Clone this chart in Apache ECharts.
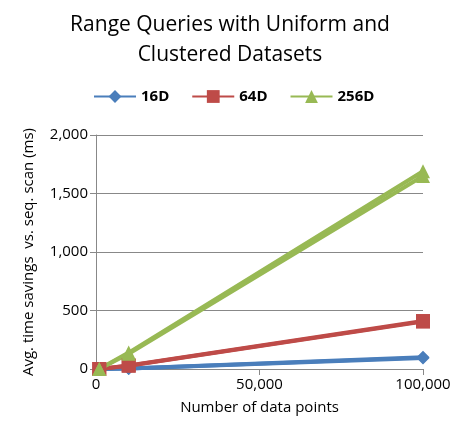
<!DOCTYPE html><html><head><meta charset="utf-8"><script src="https://cdn.jsdelivr.net/npm/echarts@6/dist/echarts.min.js"></script></head><body style="margin:0"><div id="c" style="width:460px;height:442px"></div><script>
const xs=[1000,10000,100000];
const s16a=[0,5,100], s16b=[0,4,95];
const s64a=[0,30,410], s64b=[0,28,405];
const s256a=[0,140,1690], s256b=[0,130,1650];
const colors={'16D':'#4a7ebb','64D':'#be4b48','256D':'#98b954'};
const sym={'16D':'diamond','64D':'rect','256D':'triangle'};
const ser=[];
function add(name,vals,main){ser.push({name:main?name:name+' ',type:'line',data:xs.map((x,i)=>[x,vals[i]]),color:colors[name],symbol:sym[name],symbolSize:name==='16D'?13:14,lineStyle:{width:4,color:colors[name]},itemStyle:{color:colors[name]}});}
add('16D',s16a,1);add('16D',s16b,0);add('64D',s64a,1);add('64D',s64b,0);add('256D',s256a,1);add('256D',s256b,0);
const ch=echarts.init(document.getElementById('c'));
ch.setOption({animation:false,textStyle:{fontFamily:'Open Sans'},
title:{text:'Range Queries with Uniform and\nClustered Datasets',left:'center',top:5,textStyle:{fontSize:21,fontWeight:'normal',color:'#000',lineHeight:30}},
legend:{data:['16D','64D','256D'],top:84,left:88,itemGap:22,itemWidth:42,itemHeight:16,textStyle:{fontSize:15,color:'#000',fontWeight:'bold'}},
grid:{left:96,right:37,top:135,bottom:73},
xAxis:{type:'value',min:0,max:100000,interval:50000,name:'Number of data points',nameLocation:'middle',nameGap:31,nameTextStyle:{fontSize:15,color:'#000'},axisLabel:{fontSize:15,color:'#000',formatter:v=>v.toLocaleString('en-US')},axisLine:{lineStyle:{color:'#888'}},axisTick:{show:true,length:6,lineStyle:{color:'#888'}},splitLine:{show:false}},
yAxis:{type:'value',min:0,max:2000,interval:500,name:'Avg. time savings  vs. seq. scan (ms)',nameLocation:'middle',nameGap:60,nameTextStyle:{fontSize:15,color:'#000'},axisLabel:{fontSize:15,color:'#000',formatter:v=>v.toLocaleString('en-US')},axisLine:{show:true,lineStyle:{color:'#888'}},axisTick:{show:true,length:6,inside:false,lineStyle:{color:'#888'}},splitLine:{lineStyle:{color:'#888'}}},
series:ser});
</script></body></html>
